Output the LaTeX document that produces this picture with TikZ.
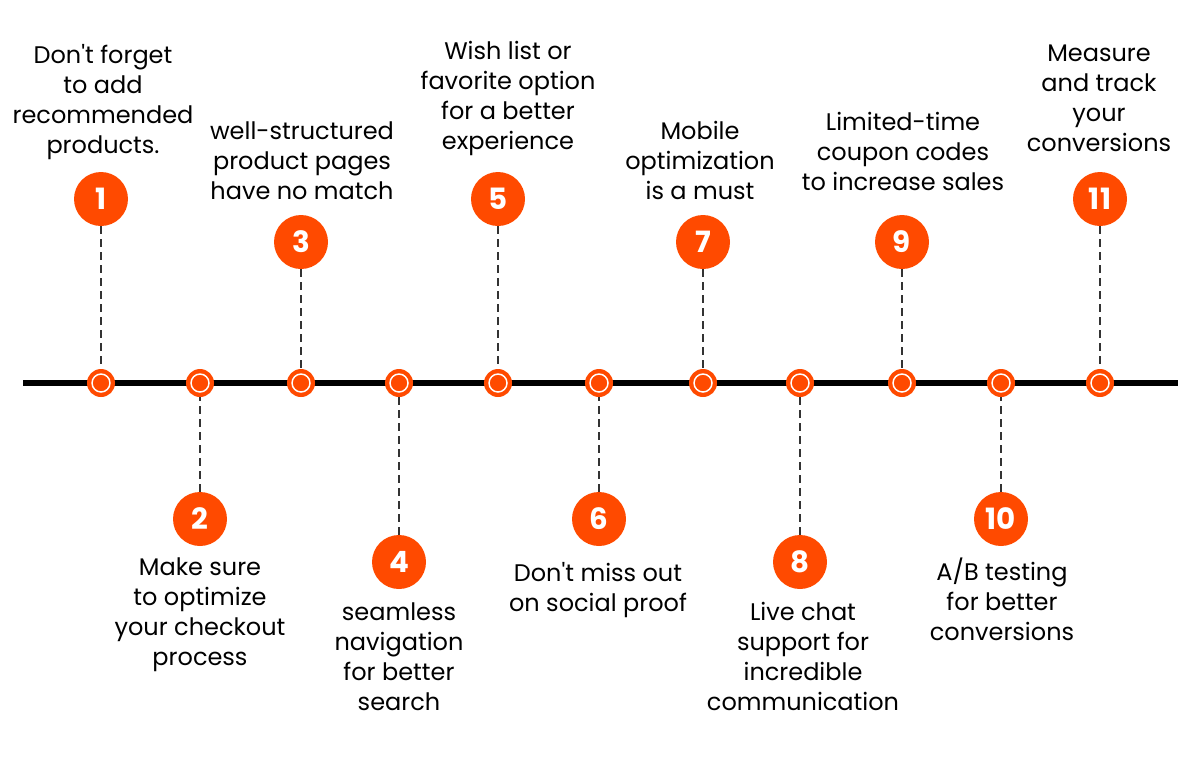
\documentclass[tikz,border=0pt]{standalone}
\usepackage{fontspec}
\setmainfont{Poppins}
\definecolor{accent}{RGB}{255,74,0}
\definecolor{leadgray}{RGB}{51,51,51}

\begin{document}
\begin{tikzpicture}[x=0.75pt, y=-0.75pt,
    marker/.style={circle, fill=accent, minimum size=21pt, inner sep=0pt},
    numcirc/.style={circle, fill=accent, minimum size=40.5pt, inner sep=0pt, text=white,
      font=\fontsize{22}{22}\selectfont\bfseries},
    leader/.style={leadgray, line width=1.5pt, dash pattern=on 6pt off 3.75pt},
    tip/.style={align=center, anchor=north, inner sep=0pt,
      font=\fontsize{18}{22.5}\selectfont}]

    % page frame
    \useasboundingbox (0,0) rectangle (1200,768);

    % the time line
    \coordinate (lstart) at (23,383);
    \coordinate (lend) at (1178,383);
    \draw[line width=4.5pt] (lstart) -- (lend);

    % markers on the line
    \foreach \i/\x in {1/101, 2/200, 3/301, 4/399, 5/498, 6/599, 7/703, 8/800, 9/902, 10/1001, 11/1100} {
      \node[marker] (m\i) at (\x,383) {};
      \draw[white, line width=1.1pt] (m\i.center) circle (6.75pt);
    }

    % numbered circles
    \foreach \i/\x/\y in {1/101/199, 2/200/519, 3/301/242, 4/399/562, 5/498/199, 6/599/519,
                          7/703/242, 8/800/562, 9/902/242, 10/1001/519, 11/1100/199} {
      \node[numcirc] (n\i) at (\x,\y) {\i};
      \draw[leader] (n\i) -- (m\i);
    }

    % texts above the line
    \node[tip] (t1) at (103,44) {Don\textquotesingle t forget\\to add\\recommended\\products.};
    \node[tip] (t3) at (302,121) {well-structured\\product pages\\have no match};
    \node[tip] (t5) at (508,41) {Wish list or\\favorite option\\for a better\\experience};
    \node[tip] (t7) at (700,121) {Mobile\\optimization\\is a must};
    \node[tip] (t9) at (903,112) {Limited-time\\coupon codes\\to increase sales};
    \node[tip] (t11) at (1099,45) {Measure\\and track\\your\\conversions};

    % texts below the line
    \node[tip] (t2) at (200,557) {Make sure\\to optimize\\your checkout\\process};
    \node[tip] (t4) at (399,602) {seamless\\navigation\\for better\\search};
    \node[tip] (t6) at (598,562) {Don\textquotesingle t miss out\\on social proof};
    \node[tip] (t8) at (803,602) {Live chat\\support for\\incredible\\communication};
    \node[tip] (t10) at (1002,558) {A/B testing\\for better\\conversions};

\end{tikzpicture}
\end{document}
